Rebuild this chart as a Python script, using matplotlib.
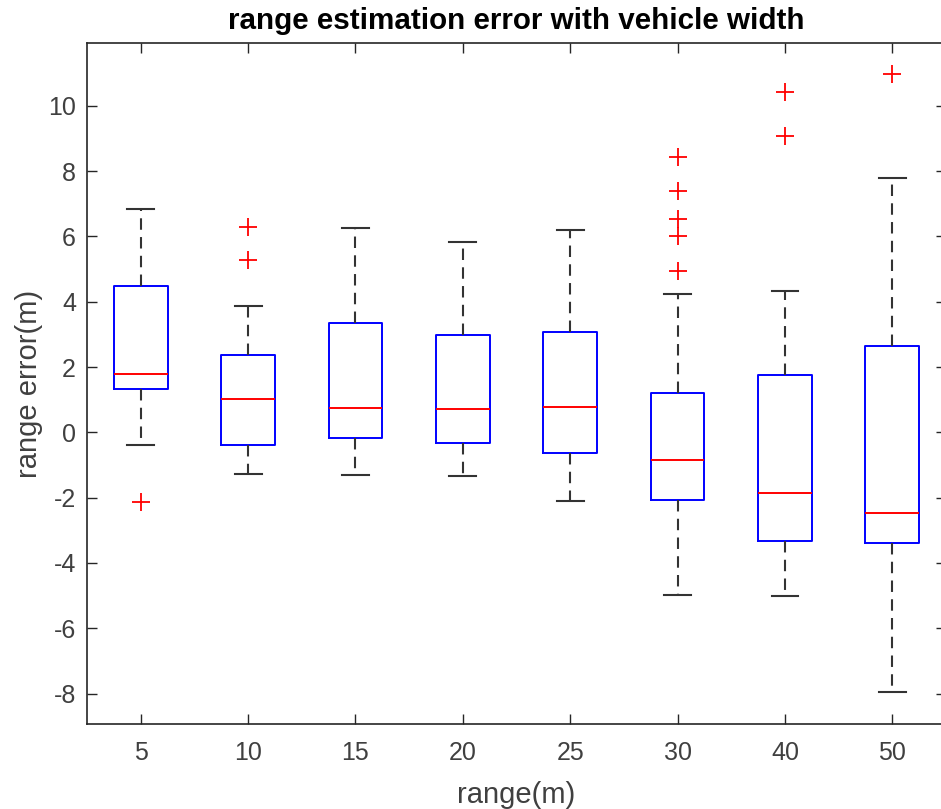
import matplotlib
matplotlib.use("Agg")
import matplotlib.pyplot as plt

plt.rcParams['font.family'] = ['Liberation Sans', 'DejaVu Sans']
plt.rcParams['axes.unicode_minus'] = False

# (range error in m)
ranges = ['5', '10', '15', '20', '25', '30', '40', '50']
med = [1.78, 1.01, 0.73, 0.70, 0.78, -0.86, -1.85, -2.46]
q1 = [1.33, -0.39, -0.17, -0.34, -0.64, -2.07, -3.33, -3.38]
q3 = [4.49, 2.36, 3.36, 2.97, 3.08, 1.19, 1.75, 2.64]
wlo = [-0.39, -1.29, -1.30, -1.34, -2.10, -4.98, -5.01, -7.94]
whi = [6.83, 3.87, 6.26, 5.82, 6.20, 4.23, 4.33, 7.78]
outliers = [
    [-2.14],
    [6.29, 5.27],
    [],
    [],
    [],
    [8.42, 7.39, 6.53, 6.00, 4.95],
    [10.41, 9.08],
    [10.96],
]

stats = []
for i in range(len(ranges)):
    stats.append({'med': med[i], 'q1': q1[i], 'q3': q3[i],
                  'whislo': wlo[i], 'whishi': whi[i], 'fliers': outliers[i],
                  'label': ranges[i]})

fig = plt.figure(figsize=(9.41, 8.09), dpi=100)
ax = fig.add_axes([0.0925, 0.1051, 0.9128, 0.8417])

dark = '#262626'
ax.bxp(stats, positions=range(1, len(ranges) + 1), widths=0.5,
       showfliers=True,
       boxprops=dict(color='#0000ff', linewidth=1.4),
       medianprops=dict(color='#ff0000', linewidth=1.4),
       whiskerprops=dict(color='#333333', linewidth=1.5, linestyle=(0, (5.5, 3.5))),
       capprops=dict(color='#333333', linewidth=1.5),
       capwidths=0.25,
       flierprops=dict(marker='+', markeredgecolor='#ff0000', markersize=13,
                       markeredgewidth=1.3, linestyle='none'))

ax.set_xlim(0.5, 8.5)
ax.set_ylim(-8.93, 11.92)
ax.set_yticks(range(-8, 11, 2))
ax.set_xticks(range(1, len(ranges) + 1))
ax.set_xticklabels(ranges)

ax.tick_params(direction='in', length=7, width=1, colors=dark, labelsize=18,
               top=True, right=True)
ax.tick_params(axis='x', pad=12)
ax.tick_params(axis='y', pad=8)
for lbl in ax.get_xticklabels() + ax.get_yticklabels():
    lbl.set_color('#404040')
for s in ax.spines.values():
    s.set_color(dark)
    s.set_linewidth(1.2)

ax.set_xlabel('range(m)', fontsize=21, color='#404040', labelpad=12)
ax.set_ylabel('range error(m)', fontsize=21, color='#404040', labelpad=4)
ax.set_title('range estimation error with vehicle width', fontsize=21.3,
             fontweight='bold', color='black', pad=10)

fig.savefig('out.png', dpi=100)
